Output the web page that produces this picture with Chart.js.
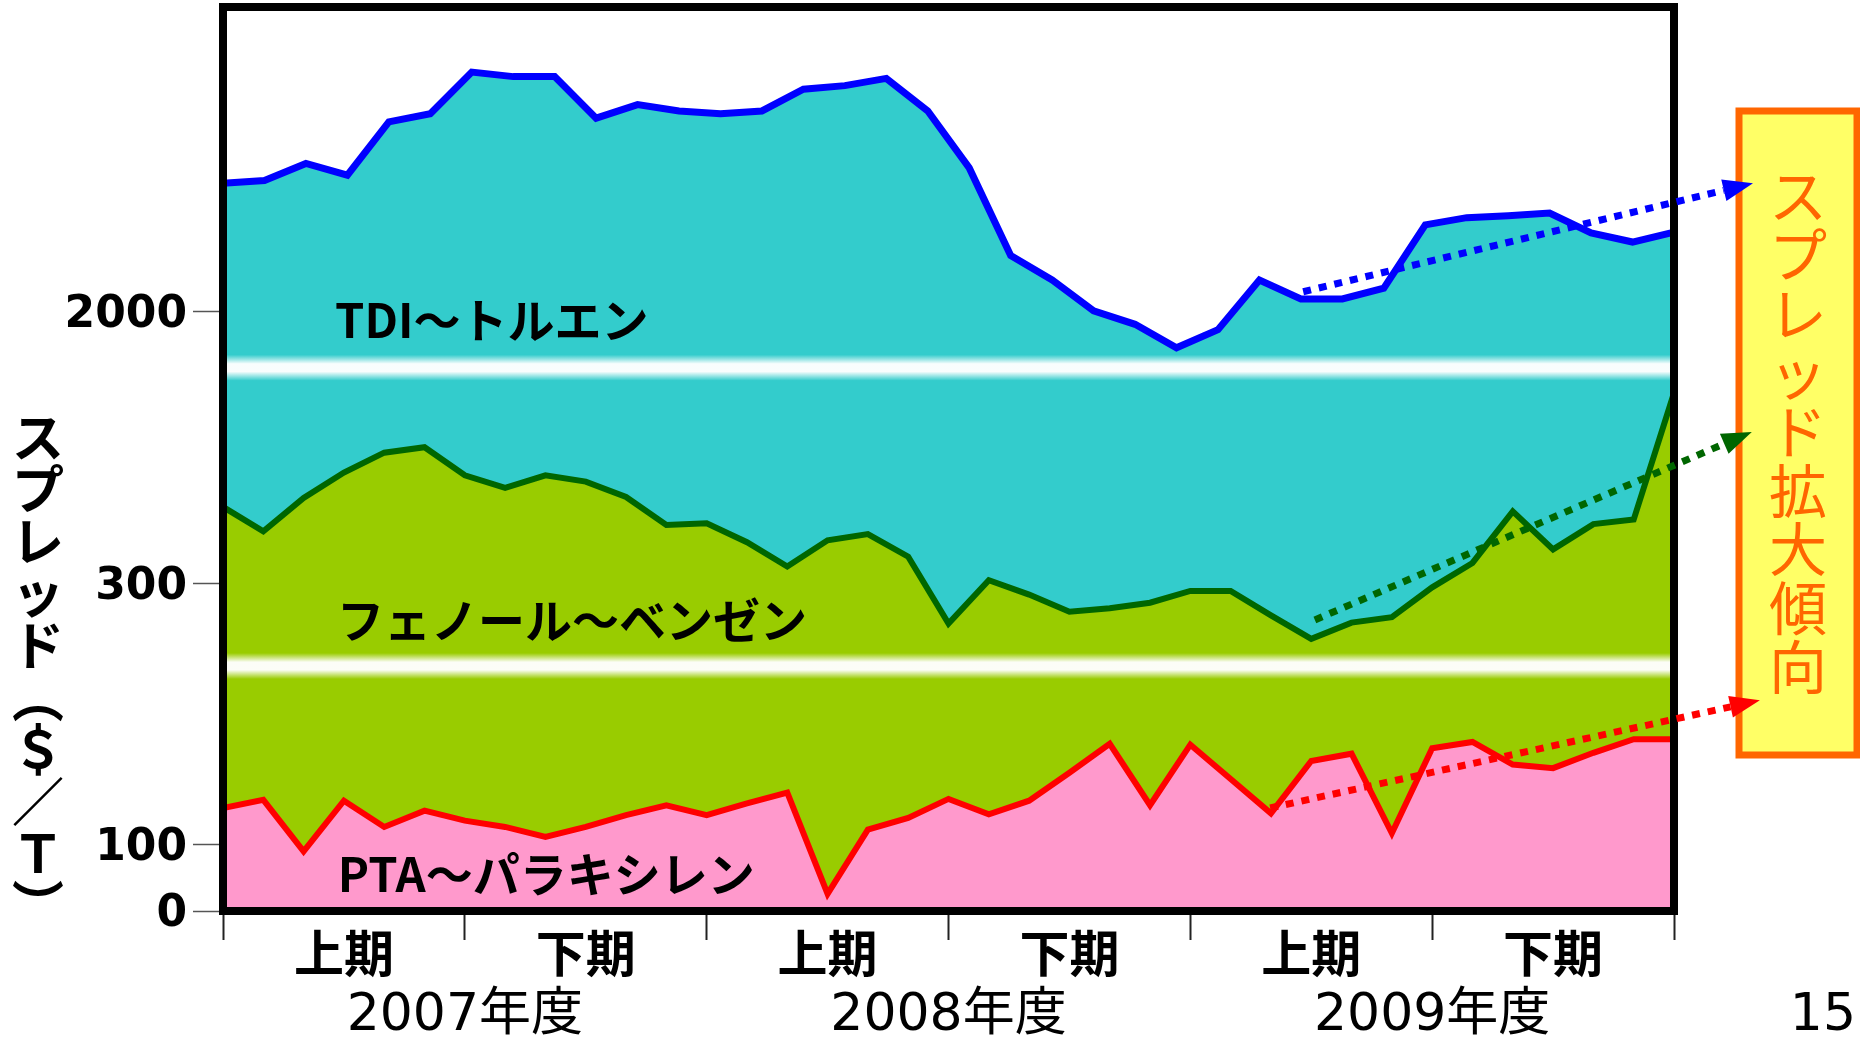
<!DOCTYPE html>
<html lang="ja">
<head>
<meta charset="utf-8">
<title>スプレッド推移</title>
<script src="https://cdn.jsdelivr.net/npm/chart.js@4.4.1/dist/chart.umd.min.js"></script>
<style>
  html, body { margin: 0; padding: 0; background: #fff; }
  canvas { display: block; }
</style>
</head>
<body>
<canvas id="spreadChart" width="1860" height="1037"></canvas>
<script>
// 月次スプレッド（縦軸はグラフ上の表示単位 0〜1000、目盛は下の対応表で表記）
const tdiSpread = [805, 808, 827, 814, 873, 882, 928, 923, 923, 877,
                   892, 885, 882, 885, 909, 913, 921, 885, 822, 725,
                   698, 664, 649, 623, 643, 698, 677, 677, 689, 759,
                   767, 769, 772, 750, 740, 751];
const phenolSpread = [447, 420, 457, 485, 507, 513, 482, 468, 482, 475,
                      458, 427, 429, 408, 381, 410, 417, 392, 318, 366,
                      350, 331, 335, 341, 354, 354, 327, 301, 319, 325,
                      358, 385, 442, 400, 428, 433, 573];
const ptaSpread = [114, 123, 66, 122, 93, 111, 100, 93, 82, 93,
                   106, 117, 106, 119, 131, 19, 90, 103, 124, 107,
                   122, 153, 185, 117, 184, 146, 108, 166, 174, 86,
                   180, 187, 162, 158, 175, 190, 190];

const seriesNames = ['TDI～トルエン', 'フェノール～ベンゼン', 'PTA～パラキシレン'];
const halfLabels = ['上期', '下期', '上期', '下期', '上期', '下期'];
const yearLabels = ['2007年度', '2008年度', '2009年度'];
const xTickMonths = [0, 3, 6, 9, 12, 15, 18, 21, 24, 27, 30, 33, 36];
const yTickValues = [0, 74, 362, 663];
const yTickLabels = ['0', '100', '300', '2000'];
const axisBreaks = [271, 601];
const yTitle = 'スプレッド（＄／Ｔ）';
const noteText = 'スプレッド拡大傾向';
const pageNo = '15';

// 系列名と傾向矢印の位置（軸の値）
const namePos = [[2.78, 654], [2.83, 322], [2.85, 41]];
const trendArrows = [
    { from: [26.8, 685], to: [37.96, 805], color: '#0000FF' },
    { from: [27.09, 322], to: [37.93, 530], color: '#006600' },
    { from: [25.98, 114], to: [38.13, 233], color: '#FF0000' }
];

const JP = '"Noto Sans CJK JP", sans-serif';
const MIX = '"DejaVu Sans", "Noto Sans CJK JP", sans-serif';

const toPoints = (arr) => arr.map((v, i) => ({ x: i, y: v }));

function monthLabel(v) {
    if (v % 6 === 3) return halfLabels[(v - 3) / 6];
    if (v % 12 === 6) return ['', yearLabels[(v - 6) / 12]];
    return '';
}

// 縦書き（括弧は縦書き用の字形に置き換え）
function drawVertical(ctx, text, cx, cy0, step, font, color) {
    const vmap = { '（': '︵', '）': '︶' };
    ctx.save();
    ctx.font = font;
    ctx.fillStyle = color;
    ctx.textAlign = 'center';
    ctx.textBaseline = 'middle';
    [...text].forEach((ch, i) => ctx.fillText(vmap[ch] || ch, cx, cy0 + i * step));
    ctx.restore();
}

function drawArrow(ctx, x1, y1, x2, y2, color) {
    const ang = Math.atan2(y2 - y1, x2 - x1);
    const head = 30, half = 11;
    const bx = x2 - head * Math.cos(ang);
    const by = y2 - head * Math.sin(ang);
    ctx.save();
    ctx.strokeStyle = color;
    ctx.lineWidth = 7;
    ctx.setLineDash([8, 8]);
    ctx.beginPath();
    ctx.moveTo(x1, y1);
    ctx.lineTo(bx, by);
    ctx.stroke();
    ctx.setLineDash([]);
    ctx.fillStyle = color;
    ctx.beginPath();
    ctx.moveTo(x2, y2);
    ctx.lineTo(bx + half * Math.sin(ang), by - half * Math.cos(ang));
    ctx.lineTo(bx - half * Math.sin(ang), by + half * Math.cos(ang));
    ctx.closePath();
    ctx.fill();
    ctx.restore();
}

// 軸の切れ目の白帯と系列名
const bandPlugin = {
    id: 'bands',
    afterDatasetsDraw(chart) {
        const { ctx, chartArea: a, scales: { x, y } } = chart;
        ctx.save();
        axisBreaks.forEach(v => {
            const py = y.getPixelForValue(v);
            const g = ctx.createLinearGradient(0, py - 13, 0, py + 13);
            g.addColorStop(0, 'rgba(255,255,255,0)');
            g.addColorStop(0.35, 'rgba(255,255,255,0.97)');
            g.addColorStop(0.65, 'rgba(255,255,255,0.97)');
            g.addColorStop(1, 'rgba(255,255,255,0)');
            ctx.fillStyle = g;
            ctx.fillRect(a.left, py - 13, a.right - a.left, 26);
        });
        ctx.font = 'bold 47px ' + JP;
        ctx.fillStyle = '#000';
        ctx.textAlign = 'left';
        ctx.textBaseline = 'middle';
        seriesNames.forEach((name, i) => {
            ctx.fillText(name, x.getPixelForValue(namePos[i][0]), y.getPixelForValue(namePos[i][1]));
        });
        ctx.restore();
    }
};

// 枠・注記・矢印
const decorPlugin = {
    id: 'decor',
    afterDraw(chart) {
        const { ctx, chartArea: a, scales: { x, y } } = chart;
        ctx.save();
        ctx.strokeStyle = '#000';
        ctx.lineWidth = 8;
        ctx.strokeRect(a.left, a.top, a.right - a.left, a.bottom - a.top);

        // 右側の注記ボックス
        ctx.fillStyle = '#FFFF66';
        ctx.fillRect(1739, 111, 118, 644);
        ctx.strokeStyle = '#FF6600';
        ctx.lineWidth = 7;
        ctx.strokeRect(1739, 111, 118, 644);
        ctx.restore();

        drawVertical(ctx, noteText, 1798, 196, 58.9, '58px ' + JP, '#FF6600');
        drawVertical(ctx, yTitle, 38, 437, 52, 'bold 52px ' + JP, '#000');

        ctx.save();
        ctx.font = '52px ' + MIX;
        ctx.fillStyle = '#000';
        ctx.textAlign = 'right';
        ctx.textBaseline = 'alphabetic';
        ctx.fillText(pageNo, 1856, 1030);
        ctx.restore();

        trendArrows.forEach(t => {
            drawArrow(ctx,
                x.getPixelForValue(t.from[0]), y.getPixelForValue(t.from[1]),
                x.getPixelForValue(t.to[0]), y.getPixelForValue(t.to[1]),
                t.color);
        });
    }
};

new Chart(document.getElementById('spreadChart'), {
    type: 'line',
    data: {
        datasets: [
            {
                label: seriesNames[2],
                data: toPoints(ptaSpread),
                borderColor: '#FF0000',
                backgroundColor: '#FF99CC',
                borderWidth: 6,
                fill: 'origin',
                pointRadius: 0,
                tension: 0
            },
            {
                label: seriesNames[1],
                data: toPoints(phenolSpread),
                borderColor: '#006600',
                backgroundColor: '#99CC00',
                borderWidth: 6,
                fill: 'origin',
                pointRadius: 0,
                tension: 0
            },
            {
                label: seriesNames[0],
                data: toPoints(tdiSpread),
                xAxisID: 'x2',
                borderColor: '#0000FF',
                backgroundColor: '#33CCCC',
                borderWidth: 7,
                fill: 'origin',
                pointRadius: 0,
                tension: 0
            }
        ]
    },
    options: {
        responsive: false,
        animation: false,
        events: [],
        layout: { padding: { top: 7, right: 186, bottom: 0, left: 0 } },
        plugins: { legend: { display: false }, tooltip: { enabled: false } },
        scales: {
            x: {
                type: 'linear',
                min: 0,
                max: 36,
                afterBuildTicks: (s) => { s.ticks = xTickMonths.map(v => ({ value: v })); },
                afterFit: (s) => { s.height = 126; },
                border: { display: false },
                grid: {
                    drawOnChartArea: false,
                    tickLength: 29,
                    tickWidth: 2,
                    tickColor: (c) => (c.tick && c.tick.value % 6 === 0) ? '#222' : 'rgba(0,0,0,0)'
                },
                ticks: {
                    autoSkip: false,
                    maxRotation: 0,
                    padding: 0,
                    color: '#000',
                    callback: (v) => monthLabel(v),
                    font: (c) => (c.tick && c.tick.value % 6 === 3)
                        ? { family: JP, size: 50, weight: 'bold', lineHeight: 0.52 }
                        : { family: MIX, size: 52, lineHeight: 0.975 }
                }
            },
            x2: {
                type: 'linear',
                min: 0,
                max: 35,
                display: false
            },
            y: {
                type: 'linear',
                min: 0,
                max: 1000,
                afterBuildTicks: (s) => { s.ticks = yTickValues.map(v => ({ value: v })); },
                afterFit: (s) => { s.width = 223; s.paddingTop = 0; s.paddingBottom = 0; },
                border: { display: false },
                grid: {
                    drawOnChartArea: false,
                    tickLength: 30,
                    tickWidth: 1.5,
                    tickColor: '#555'
                },
                ticks: {
                    autoSkip: false,
                    padding: 6,
                    labelOffset: 4,
                    color: '#000',
                    font: { family: MIX, size: 44, weight: 'bold', lineHeight: 0.3 },
                    callback: (v) => yTickLabels[yTickValues.indexOf(v)]
                }
            }
        }
    },
    plugins: [bandPlugin, decorPlugin]
});
</script>
</body>
</html>
